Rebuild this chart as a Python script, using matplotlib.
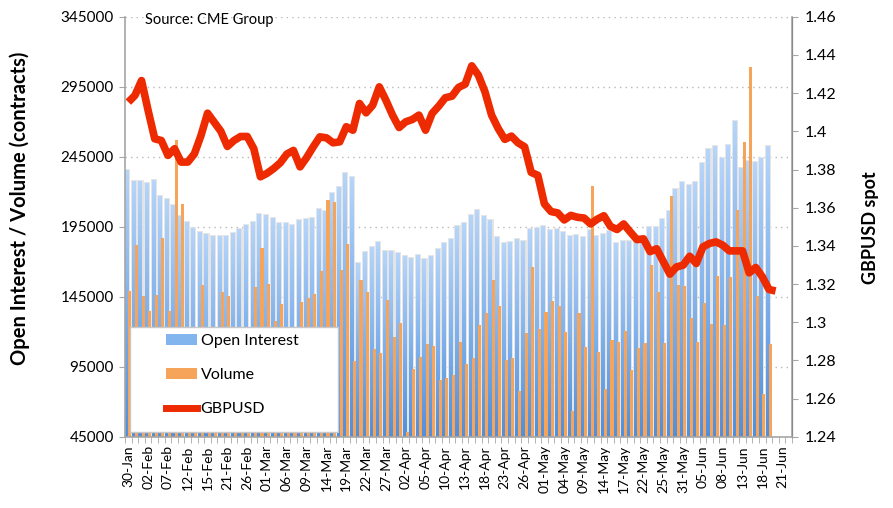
import matplotlib
matplotlib.use("Agg")
import matplotlib.pyplot as plt
import numpy as np
import pandas as pd
from matplotlib.colors import LinearSegmentedColormap
from matplotlib.lines import Line2D
from matplotlib.patches import Patch, Rectangle

plt.rcParams["font.family"] = ["Lato", "DejaVu Sans"]

# trading days shown on the category axis (CME holidays removed)
HOLIDAYS = ["2018-02-19", "2018-03-30", "2018-05-28"]
DATES = pd.bdate_range("2018-01-30", "2018-06-22", freq="C", holidays=HOLIDAYS)
LABEL_EVERY = 3

# contracts, one value per trading day from 30-Jan to 19-Jun
OPEN_INTEREST = [
    235500, 228000, 227500, 226500, 228500, 217000, 215000, 210500, 203000, 198800,
    194000, 191400, 189800, 188500, 188800, 188500, 190800, 193500, 196500, 198200,
    204300, 203300, 201500, 197400, 197800, 196200, 200000, 200500, 201000, 207500,
    206000, 219300, 223300, 233600, 230500, 169500, 176900, 180500, 184500, 177400,
    177400, 176200, 173900, 172600, 174800, 172100, 174500, 179300, 183300, 186400,
    195400, 197700, 203600, 206700, 202400, 200000, 187600, 183500, 184500, 186000,
    185200, 193400, 194500, 195500, 192400, 193400, 191000, 188500, 189400, 187600,
    192700, 188300, 190000, 192200, 183800, 184800, 185200, 187800, 187000, 194800,
    195200, 200500, 206300, 222100, 227200, 224800, 226700, 240400, 250500, 252600,
    244200, 253700, 270400, 236700, 242200, 241200, 243800, 252500,
]
VOLUME = [
    149500, 181700, 145500, 134600, 146200, 186900, 134600, 256700, 211600, 110000,
    100000, 153600, 118000, 96000, 148300, 145700, 105000, 90000, 112000, 151900,
    179800, 154100, 127400, 139700, 115000, 98000, 141200, 144100, 147000, 163800,
    214000, 212600, 164500, 182400, 99500, 157300, 148800, 107400, 104800, 142400,
    116200, 126200, 48400, 93600, 101900, 111200, 109800, 85700, 86900, 89300,
    112600, 96700, 101200, 125000, 133300, 156700, 138300, 99800, 101200, 77900,
    119300, 166200, 122100, 134500, 141700, 138300, 119800, 63200, 133300, 109000,
    224500, 105500, 79000, 114500, 112600, 120300, 92600, 108300, 112000, 167400,
    148300, 112000, 216800, 153800, 152600, 129800, 112600, 140500, 125700, 159800,
    125000, 159000, 206700, 255500, 309000, 145400, 75500, 111000,
]
# GBPUSD spot, 30-Jan to 20-Jun
GBPUSD = [
    1.4153, 1.4188, 1.4266, 1.4109, 1.3961, 1.3952, 1.3874, 1.3909, 1.3839, 1.3839,
    1.3882, 1.3978, 1.4095, 1.4048, 1.4001, 1.3921, 1.3952, 1.3973, 1.3973, 1.3909,
    1.3762, 1.3780, 1.3805, 1.3835, 1.3881, 1.3900, 1.3814, 1.3863, 1.3919, 1.3971,
    1.3966, 1.3940, 1.3945, 1.4024, 1.4006, 1.4146, 1.4097, 1.4137, 1.4233, 1.4163,
    1.4085, 1.4020, 1.4050, 1.4062, 1.4085, 1.4006, 1.4094, 1.4132, 1.4176, 1.4184,
    1.4230, 1.4247, 1.4343, 1.4294, 1.4207, 1.4085, 1.4015, 1.3958, 1.3975, 1.3940,
    1.3919, 1.3785, 1.3770, 1.3620, 1.3580, 1.3573, 1.3536, 1.3560, 1.3550, 1.3546,
    1.3515, 1.3540, 1.3558, 1.3502, 1.3486, 1.3515, 1.3473, 1.3433, 1.3437, 1.3370,
    1.3385, 1.3318, 1.3252, 1.3290, 1.3299, 1.3346, 1.3308, 1.3395, 1.3413, 1.3421,
    1.3404, 1.3374, 1.3374, 1.3374, 1.3259, 1.3287, 1.3238, 1.3172, 1.3164,
]

LEFT_MIN, LEFT_MAX, LEFT_STEP = 45000, 345000, 50000
RIGHT_MIN, RIGHT_MAX, RIGHT_STEP = 1.24, 1.46, 0.02

BLUE_TOP = "#b6d5fa"
BLUE_BOTTOM = "#4f8fdc"
ORANGE = "#f5a45a"
RED = "#ee2a00"
GRID = "#b8b8b8"
AXIS = "#a6a6a6"


def main():
    labels = [d.strftime("%d-%b") for d in DATES]
    n = len(labels)

    fig = plt.figure(figsize=(8.93, 5.08), dpi=100)
    ax = fig.add_axes([0.14, 0.14, 0.747, 0.827])
    ax2 = ax.twinx()

    x_oi = np.arange(len(OPEN_INTEREST))
    x_px = np.arange(len(GBPUSD))
    bw = 0.47

    # soft grey halo behind the blue bars, like the Excel shadow
    ax.bar(x_oi - bw / 2, OPEN_INTEREST, width=bw, color="none",
           edgecolor="#e2e2e2", linewidth=2.0, zorder=1.5)
    oi_bars = ax.bar(x_oi - bw / 2, OPEN_INTEREST, width=bw, color=BLUE_BOTTOM,
                     linewidth=0, zorder=2)
    cmap = LinearSegmentedColormap.from_list("oi", [BLUE_BOTTOM, "#7fb1ec", BLUE_TOP])
    grad = np.repeat(np.linspace(0, 1, 128).reshape(-1, 1), 2, axis=1)
    for rect in oi_bars:
        x0 = rect.get_x()
        top = rect.get_height()
        im = ax.imshow(grad, extent=(x0, x0 + rect.get_width(), LEFT_MIN, top),
                       origin="lower", aspect="auto", cmap=cmap, zorder=2.1,
                       interpolation="nearest")
        im.set_clip_path(rect)
    ax.bar(x_oi + bw / 2, VOLUME, width=bw, color=ORANGE, linewidth=0, zorder=2.2)

    # dotted horizontal grid
    for v in range(LEFT_MIN + LEFT_STEP, LEFT_MAX + 1, LEFT_STEP):
        ax.axhline(v, color=GRID, lw=1.0, ls=(0, (1, 3)), zorder=1)

    ax.set_xlim(-0.5, n - 0.5)
    ax.set_ylim(LEFT_MIN, LEFT_MAX)
    ax.set_yticks(range(LEFT_MIN, LEFT_MAX + 1, LEFT_STEP))
    ax.set_yticklabels([str(v) for v in range(LEFT_MIN, LEFT_MAX + 1, LEFT_STEP)])
    ax.set_xticks(np.arange(0, n, LABEL_EVERY))
    ax.set_xticklabels(labels[::LABEL_EVERY], rotation=90, fontsize=10)
    ax.set_xticks(np.arange(-0.5, n, 1), minor=True)
    ax.tick_params(axis="x", which="major", length=0, pad=6)
    ax.tick_params(axis="x", which="minor", length=4, color=AXIS)
    ax.tick_params(axis="y", length=4, color=AXIS, labelsize=11, pad=4)

    for a in (ax, ax2):
        a.spines["top"].set_visible(False)
    for sp in (ax.spines["left"], ax.spines["bottom"], ax2.spines["right"]):
        sp.set_color(AXIS)
        sp.set_linewidth(1.2)
    ax2.spines["left"].set_visible(False)
    ax2.spines["bottom"].set_visible(False)

    ax.set_ylabel("Open Interest / Volume (contracts)", fontsize=14.5, fontweight="bold")
    ax.yaxis.set_label_coords(-0.142, 0.543)

    # GBPUSD line
    ax2.plot(x_px, GBPUSD, color=RED, lw=5.5, solid_joinstyle="round",
             solid_capstyle="butt", zorder=3)
    ax2.set_ylim(RIGHT_MIN, RIGHT_MAX)
    rt = np.round(np.arange(RIGHT_MIN, RIGHT_MAX + 1e-9, RIGHT_STEP), 2)
    ax2.set_yticks(rt)
    ax2.set_yticklabels([f"{v:g}" for v in rt])
    ax2.tick_params(axis="y", length=4, color=AXIS, labelsize=11.5, pad=5)
    ax2.set_ylabel("GBPUSD spot", fontsize=13, fontweight="bold", rotation=90)
    ax2.yaxis.set_label_coords(1.105, 0.498)

    ax.text(0.03, 0.993, "Source: CME Group", transform=ax.transAxes,
            fontsize=10.5, va="center", ha="left")

    # legend box
    box = Rectangle((0.0075, 0.012), 0.312, 0.25, transform=ax2.transAxes,
                    facecolor="white", edgecolor="#c8c8c8", lw=1.0, zorder=4)
    ax2.add_patch(box)
    handles = [
        Patch(facecolor="#82b4ee", edgecolor="none"),
        Patch(facecolor=ORANGE, edgecolor="none"),
        Line2D([0], [0], color=RED, lw=5),
    ]
    leg = ax2.legend(handles, ["Open Interest", "Volume", "GBPUSD"],
                     loc="upper left", bbox_to_anchor=(0.062, 0.245),
                     frameon=False, fontsize=11.5, handlelength=1.9,
                     handletextpad=0.25, labelspacing=1.25, borderpad=0,
                     borderaxespad=0)
    leg.set_zorder(5)

    fig.savefig("out.png", dpi=100)


if __name__ == "__main__":
    main()
